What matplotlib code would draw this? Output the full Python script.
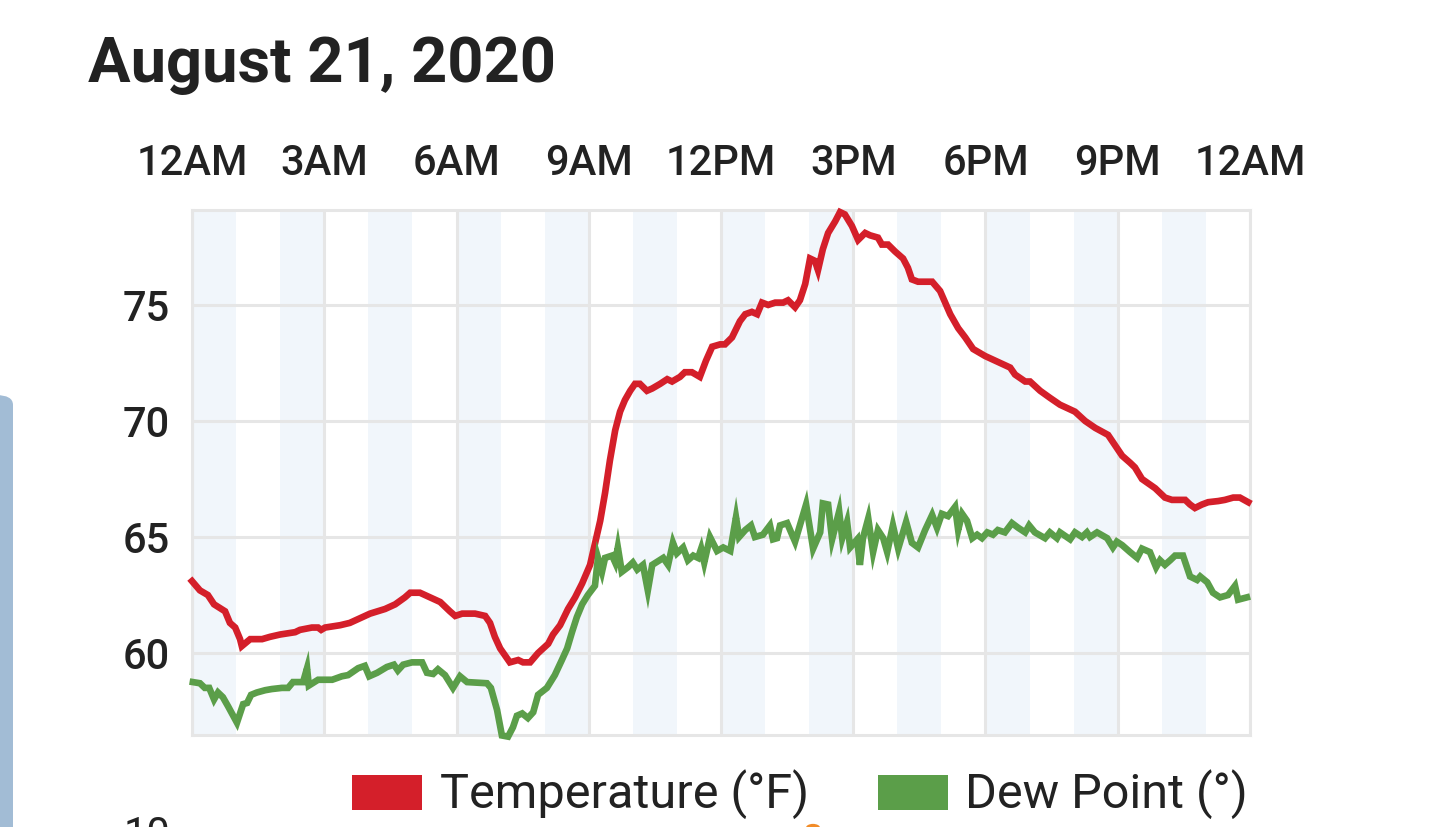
import matplotlib.pyplot as plt
from matplotlib.patches import Rectangle, FancyBboxPatch, Circle

plt.rcParams['font.family'] = ['Roboto', 'DejaVu Sans']

# Data (hours after midnight, degrees F)
temp_hours = [0.00, 0.18, 0.36, 0.50, 0.75, 0.86, 0.98, 1.09, 1.13, 1.32, 1.59, 1.77, 2.00, 2.34,
              2.45, 2.72, 2.86, 2.93, 3.02, 3.36, 3.58, 3.81, 4.04, 4.38, 4.61, 4.83, 4.95, 5.17,
              5.40, 5.63, 5.85, 5.97, 6.13, 6.42, 6.65, 6.76, 6.87, 6.99, 7.21, 7.40, 7.51, 7.67,
              7.85, 8.08, 8.19, 8.35, 8.53, 8.69, 8.85, 9.03, 9.14, 9.26, 9.37, 9.48, 9.60, 9.71,
              9.82, 9.94, 10.05, 10.16, 10.32, 10.44, 10.62, 10.78, 10.89, 11.07, 11.18, 11.34,
              11.52, 11.66, 11.80, 11.98, 12.09, 12.25, 12.43, 12.55, 12.70, 12.82, 12.93, 13.07,
              13.23, 13.41, 13.52, 13.68, 13.79, 13.91, 14.02, 14.13, 14.20, 14.31, 14.43, 14.59,
              14.70, 14.81, 14.97, 15.11, 15.27, 15.38, 15.56, 15.65, 15.79, 15.95, 16.13, 16.24,
              16.33, 16.47, 16.63, 16.79, 16.97, 17.20, 17.38, 17.54, 17.72, 17.99, 18.33, 18.56,
              18.67, 18.90, 19.01, 19.24, 19.46, 19.69, 20.03, 20.26, 20.49, 20.78, 21.10, 21.28,
              21.39, 21.55, 21.85, 22.07, 22.23, 22.53, 22.64, 22.75, 22.91, 23.05, 23.28, 23.43,
              23.62, 23.77, 23.96]
temperature = [63.1, 62.7, 62.5, 62.1, 61.8, 61.3, 61.1, 60.6, 60.3, 60.6, 60.6, 60.7, 60.8, 60.9,
               61.0, 61.1, 61.1, 61.0, 61.1, 61.2, 61.3, 61.5, 61.7, 61.9, 62.1, 62.4, 62.6, 62.6,
               62.4, 62.2, 61.8, 61.6, 61.7, 61.7, 61.6, 61.3, 60.7, 60.2, 59.6, 59.7, 59.6, 59.6,
               60.0, 60.4, 60.8, 61.2, 61.9, 62.4, 63.0, 63.8, 64.7, 65.7, 66.9, 68.3, 69.6, 70.4,
               70.9, 71.3, 71.6, 71.6, 71.3, 71.4, 71.6, 71.8, 71.7, 71.9, 72.1, 72.1,
               71.9, 72.6, 73.2, 73.3, 73.3, 73.6, 74.3, 74.6, 74.7, 74.6, 75.1, 75.0,
               75.1, 75.1, 75.2, 74.9, 75.2, 75.9, 77.0, 76.9, 76.5, 77.4, 78.1, 78.6,
               79.0, 78.9, 78.4, 77.8, 78.1, 78.0, 77.9, 77.6, 77.6, 77.3, 77.0, 76.6,
               76.1, 76.0, 76.0, 76.0, 75.6, 74.6, 74.0, 73.6, 73.1, 72.8, 72.5, 72.3,
               72.0, 71.7, 71.7, 71.3, 71.0, 70.7, 70.4, 70.0, 69.7, 69.4, 68.5, 68.2,
               68.0, 67.5, 67.1, 66.7, 66.6, 66.6, 66.4, 66.25, 66.4, 66.5, 66.55, 66.6,
               66.7, 66.7, 66.5]

dew_hours = [0.02, 0.18, 0.29, 0.39, 0.50, 0.59, 0.70, 0.82, 1.02, 1.16, 1.25, 1.34, 1.47, 1.66,
             1.81, 2.04, 2.18, 2.29, 2.52, 2.61, 2.65, 2.86, 3.18, 3.40, 3.54, 3.77, 3.92, 4.02,
             4.20, 4.42, 4.58, 4.67, 4.79, 4.99, 5.22, 5.33, 5.47, 5.58, 5.74, 5.92, 6.08, 6.24,
             6.69, 6.78, 6.92, 7.03, 7.17, 7.28, 7.37, 7.49, 7.62, 7.74, 7.85, 8.05, 8.23, 8.39,
             8.51, 8.62, 8.73, 8.85, 8.98, 9.14, 9.21, 9.30, 9.37, 9.53, 9.60, 9.66, 9.75, 9.89,
             10.00, 10.10, 10.23, 10.34, 10.44, 10.69, 10.80, 10.91, 11.00, 11.14, 11.25, 11.37,
             11.48, 11.55, 11.62, 11.75, 11.91, 12.05, 12.21, 12.34, 12.41, 12.55, 12.68, 12.77,
             12.95, 13.11, 13.18, 13.27, 13.34, 13.50, 13.68, 13.93, 14.09, 14.25, 14.31, 14.43,
             14.52, 14.68, 14.75, 14.86, 14.93, 15.09, 15.15, 15.22, 15.34, 15.45, 15.56, 15.68,
             15.77, 15.90, 16.02, 16.20, 16.33, 16.47, 16.63, 16.79, 16.90, 17.01, 17.15, 17.31,
             17.38, 17.47, 17.58, 17.70, 17.81, 17.92, 18.04, 18.17, 18.28, 18.44, 18.60, 18.74,
             18.90, 18.99, 19.12, 19.35, 19.46, 19.62, 19.69, 19.92, 20.03, 20.19, 20.30, 20.37,
             20.53, 20.76, 20.89, 20.98, 21.10, 21.28, 21.44, 21.55, 21.73, 21.87, 21.96, 22.07,
             22.19, 22.30, 22.48, 22.64, 22.80, 22.87, 23.03, 23.16, 23.32, 23.50, 23.66, 23.73,
             23.93]
dew_point = [58.75, 58.7, 58.5, 58.5, 58.0, 58.3, 58.1, 57.7, 57.0, 57.8, 57.85, 58.2, 58.3, 58.4,
             58.45, 58.5, 58.5, 58.75, 58.75, 59.35, 58.6, 58.85, 58.85, 59.0, 59.05, 59.35, 59.45, 59.0,
             59.15, 59.4, 59.5, 59.25, 59.5, 59.6, 59.6, 59.15, 59.1, 59.3, 59.05, 58.5, 59.0, 58.75,
             58.7, 58.5, 57.55, 56.45, 56.4, 56.8, 57.3, 57.4, 57.2, 57.45, 58.2, 58.5, 59.05, 59.7,
             60.2, 60.9, 61.55, 62.1, 62.5, 62.9, 64.1, 63.5, 64.1, 64.2, 63.9, 64.55, 63.5, 63.7,
             63.9, 63.6, 63.8, 62.7, 63.8, 64.1, 63.8, 64.75, 64.3, 64.55, 64.0, 64.2,
             64.1, 64.5, 63.9, 65.0, 64.4, 64.55, 64.4, 65.85, 65.0, 65.3, 65.5, 65.0,
             65.1, 65.5, 64.9, 64.95, 65.5, 65.6, 64.8, 66.4, 64.5, 65.2, 66.45, 66.4,
             64.9, 66.1, 64.95, 65.65, 64.55, 64.9, 63.8, 64.95, 65.8, 64.35, 65.3, 64.95,
             64.35, 65.5, 64.5, 65.65, 64.75, 64.55, 65.3, 65.95, 65.4, 66.0, 65.9, 66.3,
             65.3, 66.0, 65.7, 64.95, 65.1, 64.95, 65.2, 65.1, 65.3, 65.2, 65.6, 65.4,
             65.2, 65.5, 65.2, 64.95, 65.2, 64.95, 65.2, 64.9, 65.2, 65.0, 65.2, 65.0,
             65.2, 64.95, 64.55, 64.8, 64.65, 64.35, 64.1, 64.5, 64.35, 63.7, 64.0, 63.8,
             64.0, 64.2, 64.2, 63.3, 63.15, 63.3, 63.05, 62.6, 62.4, 62.5, 62.9, 62.3,
             62.4]

tick_hours = [0, 3, 6, 9, 12, 15, 18, 21, 24]
tick_labels = ['12AM', '3AM', '6AM', '9AM', '12PM', '3PM', '6PM', '9PM', '12AM']
y_ticks = [60, 65, 70, 75]

RED = '#d41f2a'
GREEN = '#5b9e49'
GRID = '#e6e6e6'
BAND = '#f1f6fb'
TXT = '#222222'

W, H = 1440, 827
fig = plt.figure(figsize=(W / 100, H / 100), dpi=100)


def fx(x):
    return x / W


def fy(y):
    return 1 - y / H


ax = fig.add_axes([fx(192), fy(735), fx(1250) - fx(192), fy(210) - fy(735)])

# alternating hour bands
for h in range(0, 24, 2):
    ax.axvspan(h, h + 1, color=BAND, lw=0, zorder=0)

ax.plot(temp_hours, temperature, color=RED, lw=4.8, zorder=3, clip_on=False,
        solid_joinstyle='miter')
ax.plot(dew_hours, dew_point, color=GREEN, lw=4.8, zorder=3, clip_on=False,
        solid_joinstyle='miter')

ax.set_xlim(0, 24)
ax.set_ylim(56.47, 79.09)
ax.set_xticks(tick_hours)
ax.set_xticklabels(tick_labels)
ax.set_yticks(y_ticks)
ax.xaxis.tick_top()
ax.tick_params(axis='both', length=0, labelsize=30, colors=TXT)
ax.tick_params(axis='x', pad=19)
ax.tick_params(axis='y', pad=16)
for lab in ax.get_xticklabels() + ax.get_yticklabels():
    lab.set_fontweight('medium')
ax.grid(True, color=GRID, lw=2.2, zorder=1)
ax.set_axisbelow(True)
for s in ax.spines.values():
    s.set_color(GRID)
    s.set_linewidth(2.2)

fig.text(fx(88), fy(82), 'August 21, 2020', fontsize=45.5, fontweight='bold',
         color=TXT, va='baseline', ha='left')

# legend
fig.patches.append(Rectangle((fx(352), fy(810)), fx(70), fy(775) - fy(810),
                             transform=fig.transFigure, color=RED, lw=0))
fig.text(fx(440), fy(808), 'Temperature (°F)', fontsize=35, color=TXT,
         va='baseline', ha='left')
fig.patches.append(Rectangle((fx(878), fy(810)), fx(70), fy(775) - fy(810),
                             transform=fig.transFigure, color=GREEN, lw=0))
fig.text(fx(965), fy(808), 'Dew Point (°)', fontsize=35, color=TXT,
         va='baseline', ha='left')

# bits of the next card peeking in at the edges
fig.patches.append(FancyBboxPatch((fx(-30), fy(900)), fx(43), fy(395) - fy(900),
                                  boxstyle='round,pad=0,rounding_size=0.012',
                                  transform=fig.transFigure, color='#a2bcd5', lw=0))
fig.text(fx(170), fy(815), '10', fontsize=30, color=TXT, va='top', ha='right')
fig.patches.append(Circle((fx(813), fy(828)), 0.005, transform=fig.transFigure,
                          color='#f28c28', lw=0))

fig.savefig('out.png', dpi=100)
